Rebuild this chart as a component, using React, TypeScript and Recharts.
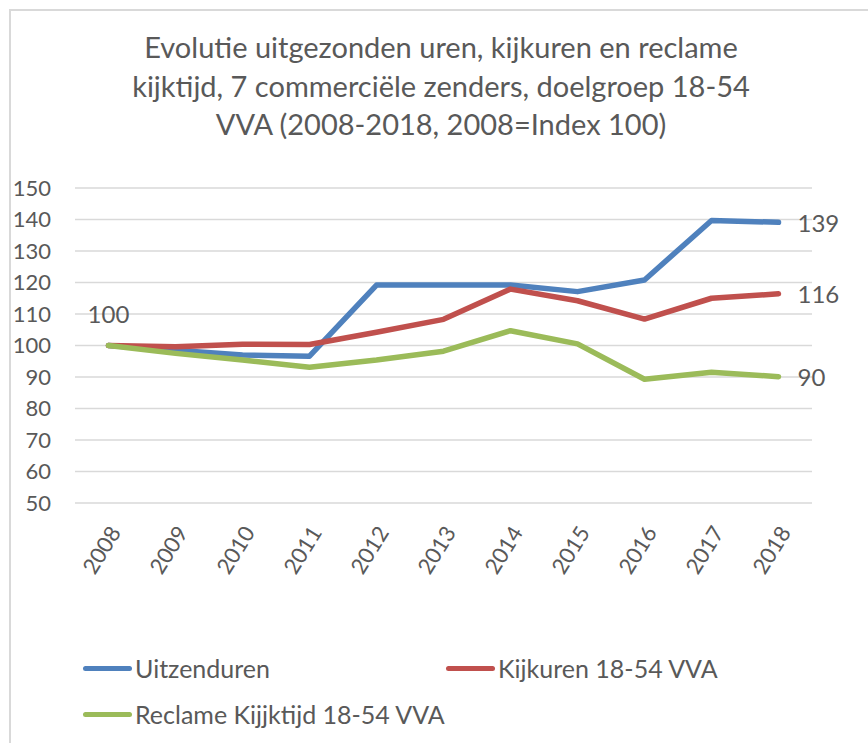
import React from 'react';
import { LineChart, Line, XAxis, YAxis, CartesianGrid } from 'recharts';

// Index values (2008 = 100)
const years = ['2008', '2009', '2010', '2011', '2012', '2013', '2014', '2015', '2016', '2017', '2018'];
const uitzenduren = [100, 98.5, 97, 96.6, 119.2, 119.2, 119.2, 117.1, 120.8, 139.7, 139.1];
const kijkuren = [100, 99.6, 100.4, 100.3, 104.2, 108.3, 117.9, 114.2, 108.4, 115, 116.4];
const reclame = [100, 97.5, 95.4, 93.1, 95.4, 98.2, 104.7, 100.5, 89.3, 91.5, 90.1];
const yTicks = [50, 60, 70, 80, 90, 100, 110, 120, 130, 140, 150];

const titleLines = [
  'Evolutie uitgezonden uren, kijkuren en reclame',
  'kijktijd, 7 commerciële zenders, doelgroep 18-54',
  'VVA (2008-2018, 2008=Index 100)',
];

const series = [
  { key: 'uitzenduren', name: 'Uitzenduren', color: '#4F81BD', values: uitzenduren, firstLabel: true },
  { key: 'kijkuren', name: 'Kijkuren 18-54 VVA', color: '#C0504D', values: kijkuren, firstLabel: false },
  { key: 'reclame', name: 'Reclame Kijjktijd 18-54 VVA', color: '#9BBB59', values: reclame, firstLabel: false },
];

const data = years.map((year, i) => ({
  year,
  uitzenduren: uitzenduren[i],
  kijkuren: kijkuren[i],
  reclame: reclame[i],
}));

const TEXT = '#595959';
const FONT = 'Lato, "Open Sans", sans-serif';

const XTick = (props: any) => {
  const { x, y, payload } = props;
  const ax = x + 6;
  const ay = y + 23;
  return (
    <text
      x={ax}
      y={ay}
      transform={`rotate(-58, ${ax}, ${ay})`}
      textAnchor="end"
      dominantBaseline="central"
      fontSize={22}
      fill={TEXT}
      fontFamily={FONT}
    >
      {payload.value}
    </text>
  );
};

const makeLabel = (showFirst: boolean) => (props: any) => {
  const { x, y, index, value } = props;
  if (index === years.length - 1) {
    return (
      <text key={`l-${index}`} x={x + 19} y={y} dominantBaseline="central" fontSize={24} fill={TEXT} fontFamily={FONT}>
        {Math.round(value)}
      </text>
    );
  }
  if (index === 0 && showFirst) {
    return (
      <text key={`l-${index}`} x={x} y={y - 32} textAnchor="middle" dominantBaseline="central" fontSize={24} fill={TEXT} fontFamily={FONT}>
        {Math.round(value)}
      </text>
    );
  }
  return null;
};

const LegendItem = ({ color, name, left, top }: { color: string; name: string; left: number; top: number }) => (
  <div style={{ position: 'absolute', left, top, display: 'flex', alignItems: 'center', height: 30 }}>
    <div style={{ width: 49, height: 5, borderRadius: 3, background: color, marginRight: 3 }} />
    <span style={{ fontSize: 25, color: TEXT, fontFamily: FONT, whiteSpace: 'nowrap' }}>{name}</span>
  </div>
);

export default function App() {
  return (
    <div style={{ position: 'absolute', left: 0, top: 0, width: 868, height: 743, background: '#fff', fontFamily: FONT, overflow: 'hidden' }}>
      {/* chart frame */}
      <div style={{ position: 'absolute', left: 9, top: 9, width: 880, height: 760, borderLeft: '2px solid #D9D9D9', borderTop: '2px solid #D9D9D9' }} />

      <div style={{ position: 'absolute', left: 0, top: 28, width: 882, textAlign: 'center', fontSize: 29, lineHeight: '38.5px', color: TEXT }}>
        {titleLines.map((t) => (
          <div key={t}>{t}</div>
        ))}
      </div>

      <div style={{ position: 'absolute', left: 0, top: 0 }}>
        <LineChart width={868} height={743} data={data} margin={{ top: 188, right: 56, left: 0, bottom: 0 }}>
          <CartesianGrid vertical={false} stroke="#D9D9D9" strokeWidth={1.5} />
          <XAxis
            dataKey="year"
            height={240}
            axisLine={false}
            tickLine={false}
            tickSize={0}
            padding={{ left: 33.5, right: 33.5 }}
            interval={0}
            tick={<XTick />}
          />
          <YAxis
            width={75}
            domain={[50, 150]}
            ticks={yTicks}
            axisLine={false}
            tickLine={false}
            tickSize={0}
            tickMargin={24}
            tick={{ fontSize: 22, fill: TEXT, fontFamily: FONT }}
          />
          {series.map((s) => (
            <Line
              key={s.key}
              dataKey={s.key}
              name={s.name}
              stroke={s.color}
              strokeWidth={5.5}
              strokeLinecap="round"
              strokeLinejoin="round"
              dot={false}
              activeDot={false}
              isAnimationActive={false}
              label={makeLabel(s.firstLabel)}
            />
          ))}
        </LineChart>
      </div>

      <LegendItem color={series[0].color} name={series[0].name} left={83} top={653} />
      <LegendItem color={series[1].color} name={series[1].name} left={446} top={653} />
      <LegendItem color={series[2].color} name={series[2].name} left={83} top={699} />
    </div>
  );
}
